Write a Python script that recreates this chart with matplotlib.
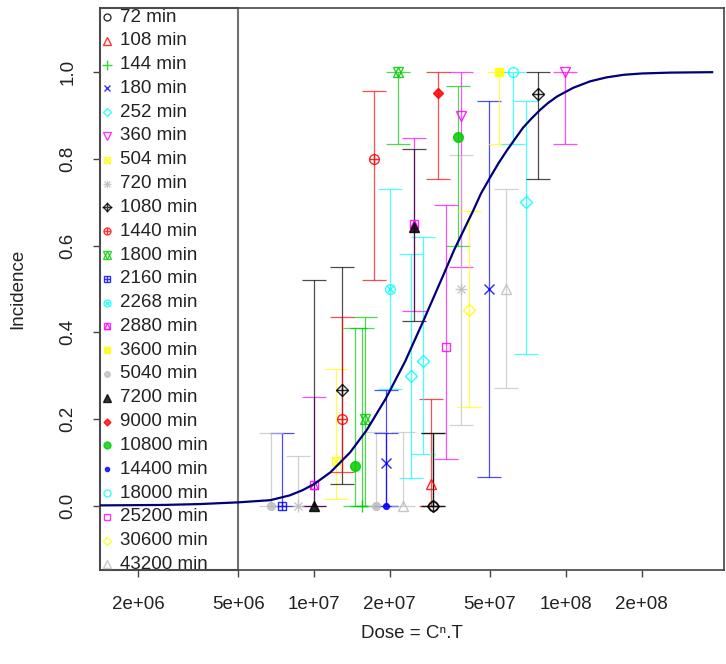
import matplotlib
matplotlib.use('Agg')
import matplotlib.pyplot as plt
from matplotlib.patches import Rectangle
from matplotlib.ticker import NullLocator
import numpy as np

plt.rcParams['font.family'] = ['Liberation Sans', 'DejaVu Sans']

# exposure times (legend), one series each
times = [72, 108, 144, 180, 252, 360, 504, 720, 1080, 1440, 1800, 2160,
         2268, 2880, 3600, 5040, 7200, 9000, 10800, 14400, 18000, 25200,
         30600, 43200]

# observed points: series index, dose, incidence, lower / upper limit
pt_series = [0, 1, 2, 3, 3, 4, 4, 4, 5, 5, 6, 7, 7, 8, 8, 8, 9, 9, 10, 10,
             11, 12, 13, 13, 14, 15, 15, 16, 16, 17, 18, 18, 19, 20, 21, 22,
             23, 23]
pt_dose = [2.97e7, 2.915e7, 1.551e7, 1.93e7, 4.95e7, 2.43e7, 2.71e7, 6.95e7,
           3.835e7, 9.93e7, 1.223e7, 3.835e7, 8.64e6, 1.292e7, 2.97e7, 7.76e7,
           1.731e7, 1.292e7, 2.157e7, 1.594e7, 7.46e6, 2.004e7, 2.495e7, 1.0e7,
           5.43e7, 6.75e6, 1.76e7, 1.0e7, 2.495e7, 3.11e7, 1.455e7, 3.73e7,
           1.93e7, 6.17e7, 3.345e7, 4.13e7, 5.79e7, 2.257e7]
pt_inc = [0.0, 0.05, 0.0, 0.099, 0.50, 0.30, 0.333, 0.70, 0.90, 1.0, 0.104,
          0.50, 0.0, 0.266, 0.0, 0.95, 0.80, 0.20, 1.0, 0.20, 0.0, 0.50,
          0.649, 0.048, 1.0, 0.0, 0.0, 0.0, 0.643, 0.951, 0.091, 0.85, 0.0,
          1.0, 0.366, 0.452, 0.50, 0.0]
pt_lo = [0.0, 0.0, 0.0, 0.0, 0.067, 0.065, 0.12, 0.349, 0.55, 0.834, 0.016,
         0.187, 0.0, 0.05, 0.0, 0.753, 0.52, 0.078, 0.834, 0.0, 0.0, 0.27,
         0.45, 0.0, 0.834, 0.0, 0.0, 0.0, 0.427, 0.753, 0.0, 0.60, 0.0,
         0.834, 0.109, 0.229, 0.271, 0.0]
pt_hi = [0.168, 0.247, 0.41, 0.266, 0.934, 0.58, 0.62, 0.934, 1.0, 1.0, 0.316,
         0.81, 0.114, 0.55, 0.168, 1.0, 0.957, 0.436, 1.0, 0.436, 0.168, 0.73,
         0.848, 0.25, 1.0, 0.168, 0.17, 0.52, 0.822, 1.0, 0.41, 0.968, 0.169,
         1.0, 0.693, 0.68, 0.73, 0.17]

# fitted dose-response curve
curve_dose = [1.41e6, 2.5e6, 3.5e6, 5.0e6, 6.7e6, 8.0e6, 9.0e6, 1.0e7,
              1.16e7, 1.39e7, 1.62e7, 1.93e7, 2.30e7, 2.71e7, 3.25e7, 3.6e7,
              3.91e7, 4.28e7, 4.6e7, 5.0e7, 5.4e7, 5.84e7, 6.3e7, 6.76e7,
              7.3e7, 7.9e7, 8.5e7, 9.23e7, 1.07e8, 1.25e8, 1.45e8, 1.7e8,
              2.0e8, 2.6e8, 3.81e8]
curve_inc = [0.001, 0.002, 0.004, 0.008, 0.013, 0.024, 0.036, 0.05,
             0.077, 0.123, 0.175, 0.248, 0.333, 0.425, 0.53, 0.59,
             0.633, 0.68, 0.72, 0.757, 0.79, 0.82, 0.847, 0.872,
             0.893, 0.913, 0.929, 0.944, 0.964, 0.979, 0.988, 0.994,
             0.997, 0.999, 1.0]

x_ticks = [2e6, 5e6, 1e7, 2e7, 5e7, 1e8, 2e8]
x_ticklabels = ['2e+06', '5e+06', '1e+07', '2e+07', '5e+07', '1e+08', '2e+08']
y_ticks = [0.0, 0.2, 0.4, 0.6, 0.8, 1.0]

# R default palette, recycled over the series
r_cols = ['black', '#FF0000', '#00CD00', '#0000FF', '#00FFFF', '#FF00FF',
          '#FFFF00', '#BEBEBE']

# R pch symbols built out of matplotlib markers: (marker, filled, size factor)
PCH = {
    1: [('o', False, 1.0)],
    2: [('^', False, 1.1)],
    3: [('+', None, 1.3)],
    4: [('x', None, 1.0)],
    5: [('D', False, 0.9)],
    6: [('v', False, 1.1)],
    7: [('s', False, 0.9), ('x', None, 0.9)],
    8: [('+', None, 1.2), ('x', None, 0.9)],
    9: [('D', False, 0.9), ('+', None, 1.3)],
    10: [('o', False, 1.0), ('+', None, 1.0)],
    11: [('^', False, 1.1), ('v', False, 1.1)],
    12: [('s', False, 0.9), ('+', None, 0.9)],
    13: [('o', False, 1.0), ('x', None, 0.7)],
    14: [('s', False, 0.9), ('^', False, 0.8)],
    15: [('s', True, 0.9)],
    16: [('o', True, 0.8)],
    17: [('^', True, 1.1)],
    18: [('D', True, 0.7)],
    19: [('o', True, 1.0)],
    20: [('o', True, 0.6)],
    21: [('o', False, 1.0)],
    22: [('s', False, 0.9)],
    23: [('D', False, 0.9)],
    24: [('^', False, 1.1)],
}


def draw_pch(ax, x, y, pch, col, ms, z, **kw):
    for m, filled, f in PCH[pch]:
        style = dict(marker=m, ms=ms * f, color=col, linestyle='none',
                     mew=1.0, zorder=z, clip_on=False)
        if filled is False:
            style['mfc'] = 'none'
        style.update(kw)
        ax.plot([x], [y], **style)


W, H = 726, 664
fig = plt.figure(figsize=(W / 100, H / 100), dpi=100)
# plot region in pixels: x 100..724, y 8..570
ax = fig.add_axes([100 / W, (H - 570) / H, 624 / W, 562 / H])
ax.set_xscale('log')
ax.set_xlim(10 ** 6.150, 10 ** 8.628)
ax.set_ylim(-0.148, 1.148)

pt_dose = np.array(pt_dose)
pt_inc = np.array(pt_inc)
pt_lo = np.array(pt_lo)
pt_hi = np.array(pt_hi)
pt_series = np.array(pt_series)

for i, t in enumerate(times):
    sel = pt_series == i
    if not sel.any():
        continue
    col = r_cols[i % 8]
    eb = ax.errorbar(pt_dose[sel], pt_inc[sel],
                     yerr=[pt_inc[sel] - pt_lo[sel], pt_hi[sel] - pt_inc[sel]],
                     fmt='none', ecolor=col, elinewidth=0.9, capsize=8.6,
                     capthick=0.9, zorder=2, alpha=0.7)
    for d, v in zip(pt_dose[sel], pt_inc[sel]):
        draw_pch(ax, d, v, i + 1, col, 7, 2.2, alpha=0.85)

ax.plot(curve_dose, curve_inc, color='#00007A', lw=1.6, zorder=3)

# legend box, drawn by hand so the curve lies over it
ax.add_patch(Rectangle((0.0, 0.0), 138 / 624, 1.0, transform=ax.transAxes,
                       fc='white', ec='#707070', lw=1.5, zorder=2.5,
                       clip_on=False))
for i, t in enumerate(times):
    py = 17 + i * 23.8
    ay = (570 - py) / 562
    draw_pch(ax, 7 / 624, ay, i + 1, r_cols[i % 8], 5, 2.6,
             transform=ax.transAxes, alpha=0.8)
    ax.text(20 / 624, ay, '%d min' % t, transform=ax.transAxes,
            ha='left', va='center', fontsize=13.5, color='#222222',
            zorder=2.6)

for s in ax.spines.values():
    s.set_color('#444444')
    s.set_linewidth(1.2)

ax.set_xticks(x_ticks)
ax.set_xticklabels(x_ticklabels)
ax.xaxis.set_minor_locator(NullLocator())
ax.set_yticks(y_ticks)
ax.set_yticklabels(['%.1f' % v for v in y_ticks], rotation=90, va='center')
ax.tick_params(direction='out', length=5, width=1, color='#444444',
               labelsize=13.5, labelcolor='#222222')
ax.tick_params(axis='x', pad=14)
ax.tick_params(axis='y', pad=12)

fig.text(18 / W, 1 - 289 / H, 'Incidence', rotation=90, ha='center',
         va='center', fontsize=13.5, color='#222222')
fig.text(412 / W, 1 - 633 / H, 'Dose = C\u207f.T', ha='center', va='center',
         fontsize=13.5, color='#222222')

fig.savefig('out.png', dpi=100)
